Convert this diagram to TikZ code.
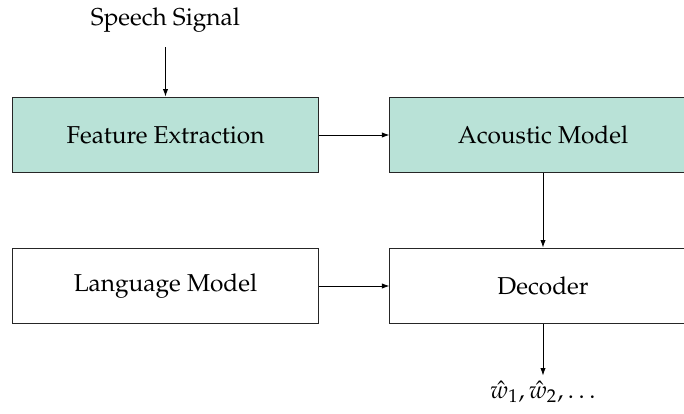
\documentclass[tikz,border=0pt]{standalone}
\usepackage[T1]{fontenc}
\usepackage{mathpazo}
\usetikzlibrary{arrows.meta}
\definecolor{boxteal}{RGB}{185,226,215}
\tikzset{
  px/.style={x=0.4545pt,y=-0.4545pt},
  block/.style={draw=black!85, line width=0.45pt, minimum width=139.1pt,
    minimum height=34.5pt, inner sep=0pt},
  hl/.style={block, fill=boxteal},
  flow/.style={-{Latex[length=3.4pt,width=2.4pt]}, line width=0.4pt},
  lbl/.style={inner sep=0pt}
}
\begin{document}
\begin{tikzpicture}[px, font=\fontsize{11.1}{13.3}\selectfont]
\useasboundingbox (0,0) rectangle (684,414);
\clip (0,0) rectangle (684,414);
% processing blocks
\node[hl]    (fe)  at (165.5,135) {Feature Extraction};
\node[hl]    (am)  at (543,135)   {Acoustic Model};
\node[block] (lm)  at (165.5,286) {Language Model};
\node[block] (dec) at (543,286)   {Decoder};
% input and output labels
\node[lbl] (sig) at (165.5,20) {Speech Signal};
\node[lbl, inner sep=2.4pt] (out) at (543,392) {$\hat{w}_1, \hat{w}_2, \ldots$};
% connectors
\draw[flow, shorten <=6.5pt] (sig) -- (fe);
\draw[flow] (fe) -- (am);
\draw[flow] (am) -- (dec);
\draw[flow] (lm) -- (dec);
\draw[flow] (dec) -- (out);
\end{tikzpicture}
\end{document}
